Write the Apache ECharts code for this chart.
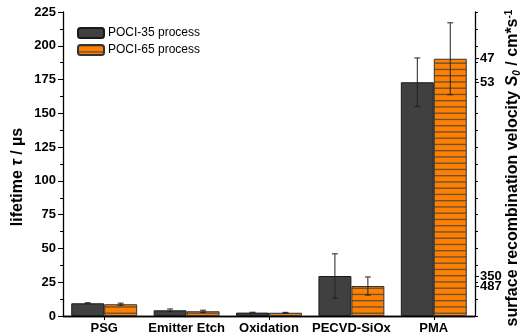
<!DOCTYPE html>
<html>
<head>
<meta charset="utf-8">
<script src="https://cdn.jsdelivr.net/npm/echarts@6/dist/echarts.min.js"></script>
<style>html,body{margin:0;padding:0;background:#fff}#c{width:526px;height:336px}</style>
</head>
<body>
<div id="c"></div>
<script>
const categories = ['PSG', 'Emitter Etch', 'Oxidation', 'PECVD-SiOx', 'PMA'];
const poci35 = [9.4, 4.2, 2.5, 29.6, 173];
const poci35Err = [0.4, 1.0, 0.3, 16.4, 18];
const poci65 = [8.7, 3.5, 2.4, 22.2, 190.4];
const poci65Err = [0.8, 0.8, 0.3, 6.7, 26.6];
const leftTicks = [0, 25, 50, 75, 100, 125, 150, 175, 200, 225];
const rightTickValues = [22.2, 29.6, 173, 190.4];
const rightTickLabels = ['487', '350', '53', '47'];

const pc = document.createElement('canvas');
pc.width = 4; pc.height = 25;
const g = pc.getContext('2d');
g.fillStyle = '#ff8000'; g.fillRect(0, 0, 4, 25);
g.fillStyle = '#6b5236';
[0, 6.25, 12.5, 18.75].forEach(y => g.fillRect(0, y, 4, 1.4));
const stripe = { image: pc, repeat: 'repeat' };

function errSeries(vals, errs, side) {
  return {
    type: 'custom',
    xAxisIndex: 0, yAxisIndex: 0,
    z: 10,
    data: vals.map((v, i) => [i, v, errs[i]]),
    renderItem: function (params, api) {
      const band = api.size([1, 0])[0];
      const v = api.value(1), e = api.value(2);
      const t = api.coord([api.value(0), v + e]);
      const b = api.coord([api.value(0), v - e]);
      const x = t[0] + side * band * 0.2;
      const cap = 3;
      const st = { stroke: '#222', lineWidth: 1 };
      return { type: 'group', children: [
        { type: 'line', shape: { x1: x, y1: t[1], x2: x, y2: b[1] }, style: st },
        { type: 'line', shape: { x1: x - cap, y1: t[1], x2: x + cap, y2: t[1] }, style: st },
        { type: 'line', shape: { x1: x - cap, y1: b[1], x2: x + cap, y2: b[1] }, style: st }
      ]};
    }
  };
}

const font = 'Liberation Sans, Arial, sans-serif';
function rightLabelAxis(idxs) {
  const vals = idxs.map(i => rightTickValues[i]);
  return { type: 'value', min: 0, max: 225, position: 'right',
    axisLine: { show: false },
    axisTick: { show: true, length: 4, customValues: vals, lineStyle: { color: '#000' } },
    axisLabel: { show: true, customValues: vals, color: '#000', fontWeight: 'bold', fontSize: 13, margin: 5, fontFamily: font,
      hideOverlap: false,
      formatter: v => { const i = rightTickValues.indexOf(v); return i >= 0 ? rightTickLabels[i] : ''; } },
    splitLine: { show: false } };
}

const chart = echarts.init(document.getElementById('c'));
chart.setOption({
  animation: false,
  textStyle: { fontFamily: font },
  grid: { left: 63, right: 51, top: 12, bottom: 20, containLabel: false, outerBoundsMode: 'none' },
  legend: {
    orient: 'vertical', left: 77, top: 27, padding: 0, itemWidth: 26, itemHeight: 10, itemGap: 5,
    textStyle: { fontFamily: font, fontSize: 12, color: '#000', padding: [0, 0, 0, -1] },
    data: ['POCI-35 process', 'POCI-65 process']
  },
  xAxis: [
    { type: 'category', data: categories, position: 'bottom',
      axisLine: { lineStyle: { color: '#000', width: 1.3 } },
      axisTick: { show: false },
      axisLabel: { color: '#000', fontWeight: 'bold', fontSize: 13, margin: 6, fontFamily: font, interval: 0 } },
    { type: 'category', data: categories, position: 'top',
      axisLine: { lineStyle: { color: '#000', width: 1.3 } },
      axisTick: { show: true, inside: true, alignWithLabel: true, length: 4, lineStyle: { color: '#000' } },
      axisLabel: { show: false } }
  ],
  yAxis: [
    { type: 'value', min: leftTicks[0], max: leftTicks[leftTicks.length - 1], interval: 25, position: 'left',
      name: 'lifetime {i|τ} / µs', nameLocation: 'middle', nameGap: 36, nameRotate: 90, nameMoveOverlap: false,
      nameTextStyle: { fontWeight: 'bold', fontSize: 16, color: '#000', fontFamily: font, lineHeight: 18, padding: [0, 26, 0, 0],
        rich: { i: { fontStyle: 'italic', fontWeight: 'bold', fontSize: 16, fontFamily: font, lineHeight: 18 } } },
      axisLine: { show: true, lineStyle: { color: '#000', width: 1.3 } },
      axisTick: { show: true, length: 5, lineStyle: { color: '#000' } },
      minorTick: { show: true, splitNumber: 2, length: 3, lineStyle: { color: '#000' } },
      axisLabel: { color: '#000', fontWeight: 'bold', fontSize: 13, margin: 7, fontFamily: font },
      splitLine: { show: false } },
    { type: 'value', min: 0, max: 225, interval: 12.5, position: 'right',
      name: 'surface recombination velocity {i|S}{sub|0} / cm*s{sup|-1}', nameLocation: 'middle', nameGap: 29, nameRotate: 90, nameMoveOverlap: false,
      nameTextStyle: { fontWeight: 'bold', fontSize: 16, color: '#000', fontFamily: font, lineHeight: 18, padding: [0, 8, 0, 0],
        rich: {
          i: { fontStyle: 'italic', fontWeight: 'bold', fontSize: 16, fontFamily: font, lineHeight: 18 },
          sub: { fontStyle: 'italic', fontWeight: 'bold', fontSize: 10, fontFamily: font, verticalAlign: 'bottom', lineHeight: 18 },
          sup: { fontWeight: 'bold', fontSize: 10, fontFamily: font, verticalAlign: 'top', lineHeight: 18 }
        } },
      axisLine: { show: true, lineStyle: { color: '#000', width: 1.3 } },
      axisTick: { show: true, length: 3, lineStyle: { color: '#000' } },
      axisLabel: { show: false },
      splitLine: { show: false } },
    rightLabelAxis([0, 2]),
    rightLabelAxis([1, 3])
  ],
  series: [
    { name: 'POCI-35 process', type: 'bar', data: poci35, barGap: '0%', barCategoryGap: '20%',
      itemStyle: { color: '#404040', borderColor: '#1a1a1a', borderWidth: 1 } },
    { name: 'POCI-65 process', type: 'bar', data: poci65, barGap: '0%', barCategoryGap: '20%',
      itemStyle: { color: stripe, borderColor: '#333', borderWidth: 1 } },
    errSeries(poci35, poci35Err, -1),
    errSeries(poci65, poci65Err, 1)
  ]
});
</script>
</body>
</html>
